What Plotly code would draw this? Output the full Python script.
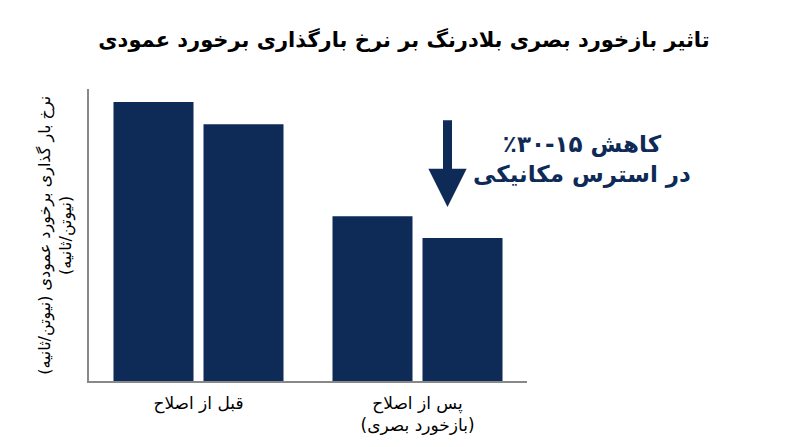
import plotly.graph_objects as go

# data (arbitrary units, y axis has no ticks)
groups = ["قبل از اصلاح", "پس از اصلاح<br>(بازخورد بصری)"]
series_a = [100, 59.1]
series_b = [92.1, 51.3]
y_max = 104.7

title_text = "تاثیر بازخورد بصری بلادرنگ بر نرخ بارگذاری برخورد عمودی"
y_title = "نرخ بار گذاری برخورد عمودی (نیوتن/ثانیه)<br>(نیوتن/ثانیه)"
# RLE ... PDF keeps the line right-to-left, RLM splits the number range
note_line1 = "\u202bکاهش ۱۵\u200f-۳۰\u200f٪\u202c"
note_line2 = "در استرس مکانیکی"

navy = "#0e2a57"
font_family = "DejaVu Sans"

fig = go.Figure()
fig.add_trace(go.Bar(x=groups, y=series_a, marker_color=navy, marker_line_width=0))
fig.add_trace(go.Bar(x=groups, y=series_b, marker_color=navy, marker_line_width=0))

# page body has an 8px margin, so the figure is 8px smaller than the window
fig.update_layout(
    width=792, height=439,
    margin=dict(l=81, r=273, t=81, b=66),
    paper_bgcolor="white", plot_bgcolor="white",
    barmode="group", bargap=0.178, bargroupgap=0.111,
    showlegend=False,
    font=dict(family=font_family, color="black"),
    title=dict(text="<b>" + title_text + "</b>", x=0.5, xanchor="center",
               y=0.927, yref="container", yanchor="middle",
               font=dict(size=21, color="black")),
)
fig.update_xaxes(showline=True, linecolor="#888888", linewidth=1.5,
                 ticks="", tickfont=dict(size=17, color="black"),
                 ticklabelstandoff=6,
                 range=[-0.5, 1.5], showgrid=False)
fig.update_yaxes(showline=True, linecolor="#888888", linewidth=1.5,
                 showticklabels=False, ticks="", showgrid=False,
                 zeroline=False, range=[0, y_max])

# rotated y axis title
fig.add_annotation(text=y_title, xref="paper", yref="paper",
                   x=-0.078, y=0.5, xanchor="center", yanchor="middle",
                   textangle=-90, showarrow=False,
                   font=dict(size=16, color="black"))

# down arrow
fig.add_annotation(x=1.137, y=62.4, ax=1.137, ay=94.0,
                   xref="x", yref="y", axref="x", ayref="y",
                   text="", showarrow=True, arrowhead=2, arrowsize=0.85,
                   arrowwidth=9, arrowcolor=navy)

fig.add_annotation(text="<b>" + note_line1 + "<br>" + note_line2 + "</b>",
                   xref="paper", yref="paper",
                   x=1.126, y=0.757, xanchor="center", yanchor="middle",
                   showarrow=False, font=dict(size=23, color=navy))

fig.write_html("out.html")
